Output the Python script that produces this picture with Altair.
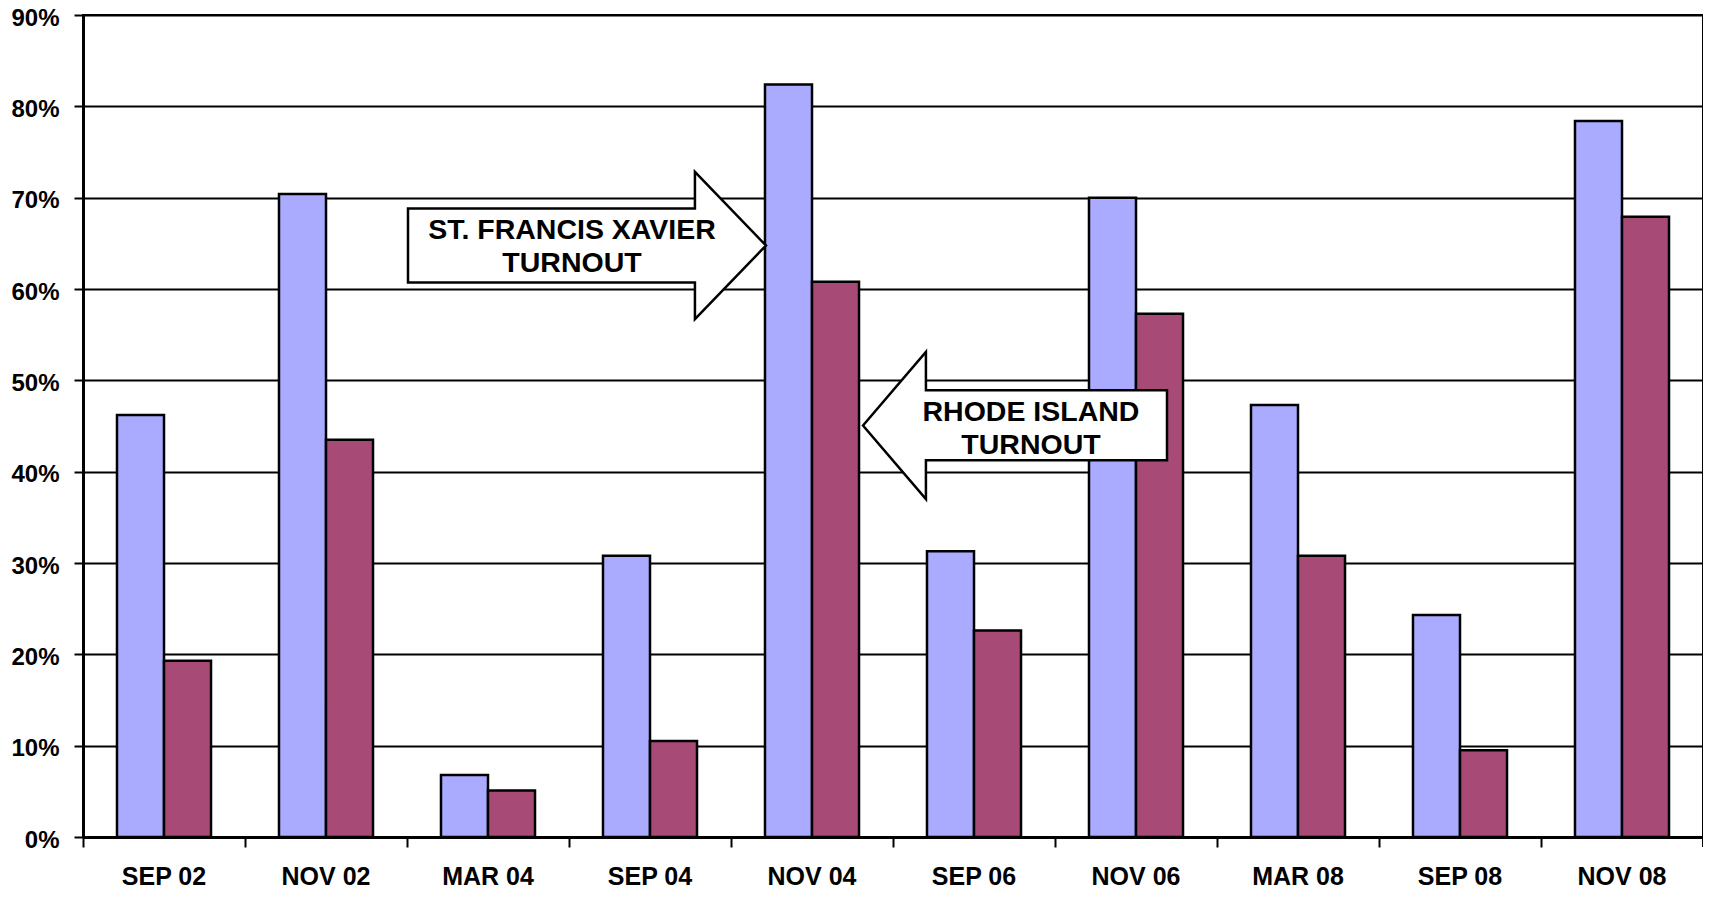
import altair as alt
import pandas as pd

categories = ["SEP 02", "NOV 02", "MAR 04", "SEP 04", "NOV 04",
              "SEP 06", "NOV 06", "MAR 08", "SEP 08", "NOV 08"]
sfx_turnout = [46.2, 70.4, 6.8, 30.8, 82.4, 31.3, 70.0, 47.3, 24.3, 78.4]
ri_turnout = [19.3, 43.5, 5.1, 10.5, 60.8, 22.6, 57.3, 30.8, 9.5, 67.9]
series = ["St. Francis Xavier", "Rhode Island"]
colors = ["#AAABFF", "#A84A76"]
y_ticks = [0, 10, 20, 30, 40, 50, 60, 70, 80, 90]

rows = []
for c, a, b in zip(categories, sfx_turnout, ri_turnout):
    rows.append({"period": c, "series": series[0], "turnout": a})
    rows.append({"period": c, "series": series[1], "turnout": b})
df = pd.DataFrame(rows)

W, H = 1620, 822
FONT = "Liberation Sans"

bars = alt.Chart(df).mark_bar(stroke="black", strokeWidth=2.5).encode(
    x=alt.X("period:N", sort=categories,
            scale=alt.Scale(paddingInner=0, paddingOuter=0),
            axis=alt.Axis(title=None, labelAngle=0, bandPosition=0,
                          labelFont=FONT, labelFontSize=25, labelFontWeight="bold",
                          labelColor="black", labelPadding=17,
                          domainColor="black", domainWidth=3,
                          tickColor="black", tickWidth=2, tickSize=10,
                          grid=False)),
    xOffset=alt.XOffset("series:N", sort=series,
                        scale=alt.Scale(paddingInner=0, paddingOuter=0.723)),
    y=alt.Y("turnout:Q", scale=alt.Scale(domain=[0, 90], nice=False),
            axis=alt.Axis(title=None, values=y_ticks,
                          labelExpr="datum.value + '%'",
                          labelFont=FONT, labelFontSize=24, labelFontWeight="bold",
                          labelColor="black", labelPadding=15, labelOffset=3,
                          domainColor="black", domainWidth=3,
                          tickColor="black", tickWidth=2, tickSize=9,
                          grid=True, gridColor="black", gridWidth=2, gridOpacity=1)),
    color=alt.Color("series:N", sort=series,
                    scale=alt.Scale(domain=series, range=colors), legend=None),
)

ann = alt.Chart(pd.DataFrame({"a": [0]}))

end_tick = ann.mark_rule(color="black", strokeWidth=2).encode(
    x=alt.value(W), y=alt.value(H), y2=alt.value(H + 10))

arrow_right = "M -1 -0.207 L 0.603 -0.207 L 0.603 -0.411 L 1 0 L 0.603 0.411 L 0.603 0.207 L -1 0.207 Z"
arrow_left = "M -1 0 L -0.586 -0.484 L -0.586 -0.232 L 1 -0.232 L 1 0.229 L -0.586 0.229 L -0.586 0.484 Z"

arrow1 = ann.mark_point(shape=arrow_right, filled=True, fill="white", stroke="black",
                        strokeWidth=2.5, opacity=1, fillOpacity=1, size=358 ** 2).encode(
    x=alt.value(504), y=alt.value(230.5))
arrow2 = ann.mark_point(shape=arrow_left, filled=True, fill="white", stroke="black",
                        strokeWidth=2.5, opacity=1, fillOpacity=1, size=304 ** 2).encode(
    x=alt.value(932), y=alt.value(410.5))

text1 = ann.mark_text(font=FONT, fontSize=28.5, fontWeight="bold", color="black",
                      align="center", baseline="middle", lineHeight=32.5).encode(
    x=alt.value(489), y=alt.value(215),
    text=alt.value(["ST. FRANCIS XAVIER", "TURNOUT"]))
text2 = ann.mark_text(font=FONT, fontSize=28.5, fontWeight="bold", color="black",
                      align="center", baseline="middle", lineHeight=32.5).encode(
    x=alt.value(948), y=alt.value(397),
    text=alt.value(["RHODE ISLAND", "TURNOUT"]))

chart = alt.layer(bars, end_tick, arrow1, arrow2, text1, text2).properties(
    width=W, height=H,
    autosize=alt.AutoSizeParams(type="none"),
    padding={"left": 75, "top": 7, "right": 0, "bottom": 53},
    background="white",
).configure_view(stroke="black", strokeWidth=2)

chart.save("out.html", embed_options={"renderer": "svg", "actions": False})
